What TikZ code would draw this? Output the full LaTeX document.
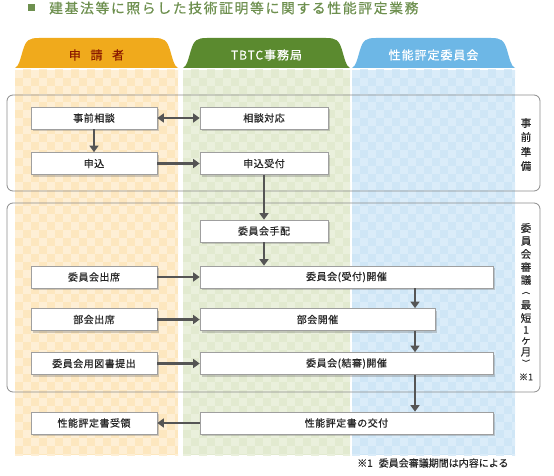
\documentclass[tikz,border=0pt]{standalone}
\usepackage{fontspec}
\usetikzlibrary{arrows.meta,shadows,calc}
\newfontfamily\jp[FakeBold=0.3]{Noto Sans CJK JP}
\newfontfamily\jpbox[LetterSpace=5,FakeBold=0.5]{Noto Sans CJK JP}
\newfontfamily\jptitle[LetterSpace=12,FakeBold=0.5]{Noto Sans CJK JP}
\newfontfamily\jphead[LetterSpace=8,FakeBold=0.4]{Noto Sans CJK JP}
\definecolor{orbase}{HTML}{FDE7BF}
\definecolor{orlight}{HTML}{FEEFD5}
\definecolor{grbase}{HTML}{E2EAD0}
\definecolor{grlight}{HTML}{EAF0DC}
\definecolor{blbase}{HTML}{CFE6F6}
\definecolor{bllight}{HTML}{DAECF9}
\definecolor{taborange}{HTML}{F0AA1C}
\definecolor{tabgreen}{HTML}{5B8A2F}
\definecolor{tabblue}{HTML}{6DB7E6}
\definecolor{headred}{HTML}{8B1A00}
\definecolor{titlegreen}{HTML}{6E904F}
\definecolor{arrowgray}{HTML}{555555}
\definecolor{groupgray}{HTML}{8C8C8C}
\newcommand\colpattern[4]{%
  \begin{scope}
    \clip (#1,70) rectangle (#2,455);
    \fill[#3] (#1,70) rectangle (#2,455);
    \foreach \i in {0,...,21}{\foreach \j in {0,2,...,50}{%
      \fill[#4] ({#1+8*\i},{62+8*(\j+mod(\i,2))}) rectangle +(8,-8);}}
  \end{scope}}
\newcommand\tabpath[3]{%
  \fill[#3] (#1,68) .. controls ({#1+4},66) and ({#1+5},60) .. ({#1+8},50)
    .. controls ({#1+11},40) and ({#1+14},38) .. ({#1+24},38) -- ({#2-24},38)
    .. controls ({#2-14},38) and ({#2-11},40) .. ({#2-8},50)
    .. controls ({#2-5},60) and ({#2-4},66) .. (#2,68) -- cycle;}
\tikzset{
  flowbox/.style={draw=gray!75, line width=0.7pt, fill=white, minimum height=22pt,
    inner sep=0pt, font=\jpbox\fontsize{10}{10}\selectfont, text=black!85,
    drop shadow={shadow xshift=2pt, shadow yshift=-2pt, opacity=0.3, fill=black!60}},
  flowarrow/.style={draw=arrowgray, line width=2.3pt, -{Triangle[length=6.5pt,width=9pt]}},
  biarrow/.style={draw=arrowgray, line width=2.3pt, {Triangle[length=6.5pt,width=9pt]}-{Triangle[length=6.5pt,width=9pt]}},
  groupbox/.style={draw=groupgray, line width=0.8pt, rounded corners=6pt},
  vlab/.style={font=\jp\fontsize{10.5}{10.5}\selectfont, text=black!85, inner sep=0pt},
  vparen/.style={font=\jp\fontsize{8}{8}\selectfont, text=black!85, inner sep=0pt},
  headtext/.style={font=\jphead\fontsize{12}{12}\selectfont, inner sep=0pt}
}
\begin{document}
\begin{tikzpicture}[x=1pt,y=-1pt]
\useasboundingbox (0,0) rectangle (554,476);
\fill[white] (0,0) rectangle (554,476);
% title
\fill[titlegreen] (28,4) rectangle (35,11);
\node[anchor=west, inner sep=0pt, font=\jptitle\fontsize{13.8}{13.8}\selectfont, text=titlegreen] (title) at (49,8) {建基法等に照らした技術証明等に関する性能評定業務};
% columns
\colpattern{15}{178}{orbase}{orlight}
\colpattern{183}{350}{grbase}{grlight}
\colpattern{352}{515}{blbase}{bllight}
% tabs
\tabpath{15}{178}{taborange}
\tabpath{183}{350}{tabgreen}
\tabpath{352}{515}{tabblue}
\node[headtext, text=headred] (h1) at (96.5,55) {申\hspace{0.8em}請\hspace{0.8em}者};
\node[headtext, text=white] (h2) at (266.5,55) {TBTC事務局};
\node[headtext, text=white] (h3) at (433.5,55) {性能評定委員会};
% group boxes
\draw[groupbox] (7,95) rectangle (540,191);
\draw[groupbox] (7,203) rectangle (540,392);
% vertical labels
\foreach \c/\y [count=\k] in {事/123, 前/137, 準/152, 備/166}
  \node[vlab] (pa\k) at (526,\y) {\c};
\foreach \c/\y [count=\k] in {委/228, 員/241, 会/254, 審/267, 議/280, 最/305, 短/318, 1/330, ヶ/341, 月/352}
  \node[vlab] (pb\k) at (526,\y) {\c};
\node[vparen] (po) at (526,293) {︵};
\node[vparen] (pc) at (526,363) {︶};
\node[vlab, font=\jp\fontsize{9}{9}\selectfont] (note1) at (526,377) {※1};
% flow boxes
\node[flowbox, minimum width=126pt] (a1) at (94,118) {事前相談};
\node[flowbox, minimum width=128pt] (b1) at (264,118) {相談対応};
\node[flowbox, minimum width=126pt] (a2) at (94,163.5) {申込};
\node[flowbox, minimum width=128pt] (b2) at (264,163.5) {申込受付};
\node[flowbox, minimum width=128pt] (b3) at (264,231) {委員会手配};
\node[flowbox, minimum width=126pt] (a4) at (94,277) {委員会出席};
\node[flowbox, minimum width=293pt] (b4) at (346.5,277) {委員会(受付)開催};
\node[flowbox, minimum width=126pt] (a5) at (94,319.5) {部会出席};
\node[flowbox, minimum width=235pt] (b5) at (317.5,319.5) {部会開催};
\node[flowbox, minimum width=126pt] (a6) at (94,363.5) {委員会用図書提出};
\node[flowbox, minimum width=293pt] (b6) at (346.5,363.5) {委員会(結審)開催};
\node[flowbox, minimum width=126pt] (a7) at (94,423) {性能評定書受領};
\node[flowbox, minimum width=293pt] (b7) at (346.5,423) {性能評定書の交付};
\coordinate (vcol) at (415,0);
% arrows
\draw[biarrow] (a1.east) -- (b1.west);
\draw[flowarrow] (a1.south) -- (a2.north);
\draw[flowarrow] (a2.east) -- (b2.west);
\draw[flowarrow] (b2.south) -- (b3.north);
\draw[flowarrow] (b3.south) -- (b3.south |- b4.north);
\draw[flowarrow] (a4.east) -- (a4.east -| b4.west);
\draw[flowarrow] (b4.south -| vcol) -- (b5.north -| vcol);
\draw[flowarrow] (a5.east) -- (b5.west);
\draw[flowarrow] (b5.south -| vcol) -- (b6.north -| vcol);
\draw[flowarrow] (a6.east) -- (a6.east -| b6.west);
\draw[flowarrow] (b6.south -| vcol) -- (b7.north -| vcol);
\draw[flowarrow] (b7.west) -- (a7.east);
% footnote
\node[anchor=west, inner sep=0pt, font=\jp\fontsize{10}{10}\selectfont, text=black!85] (foot) at (357,463) {※1\hspace{0.6em}委員会審議期間は内容による};
\end{tikzpicture}
\end{document}
